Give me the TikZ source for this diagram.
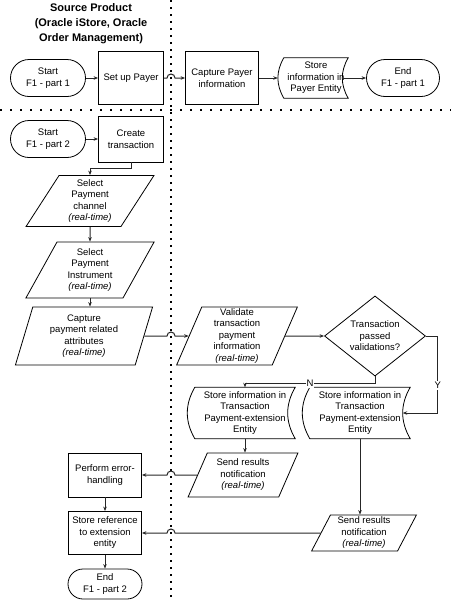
\documentclass[tikz,border=0pt]{standalone}
\usepackage{fontspec}
\setmainfont{Liberation Sans}
\usetikzlibrary{shapes.geometric, shapes.misc, arrows.meta, calc}

\tikzset{
  every node/.style={font=\fontsize{9.5}{11.5}\selectfont, align=center},
  term/.style={rounded rectangle, draw, line width=0.8pt, inner sep=0pt},
  proc/.style={rectangle, draw, line width=0.8pt, inner sep=0pt},
  io/.style={trapezium, trapezium left angle=#1, trapezium right angle={180-#1},
    trapezium stretches=true, draw, line width=0.8pt, inner sep=0pt},
  decision/.style={diamond, draw, line width=0.8pt, inner sep=0pt},
  stored/.style={rectangle, inner sep=0pt},
  line/.style={draw=black!85, line width=1pt, -{Stealth[length=4.5pt,width=3.5pt]}},
  divider/.style={line width=1.5pt, dash pattern=on 1.5pt off 5.5pt},
  branch/.style={fill=white, inner sep=1pt}
}
\newcommand{\storedshape}[1]{\draw[line width=0.8pt] (#1.north west) to[bend right=30] (#1.south west) -- (#1.south east) to[bend left=30] (#1.north east) -- cycle;}

\begin{document}
\begin{tikzpicture}[x=1pt, y=-1pt]
        \useasboundingbox (0,0) rectangle (451,600);

        % Define ends of the dividers
        \coordinate (divtop) at (171, 0);
        \coordinate (divbot) at (171, 600);
        \coordinate (rowleft) at (0, 110);
        \coordinate (rowright) at (451, 110);

        % Draw dotted dividers
        \draw[divider] (divtop) -- (divbot);
        \draw[divider, dash pattern=on 1.5pt off 8.5pt] (rowleft) -- (rowright);

        % Lane title
        \node[font=\fontsize{11}{15}\selectfont\bfseries] (title) at (91, 24) {Source Product\\(Oracle iStore, Oracle\\Order Management)};

        % Part 1 nodes
        \node[term, minimum width=75, minimum height=37] (start1) at (48, 78) {Start\\F1 - part 1};
        \node[proc, minimum width=65, minimum height=53] (payer) at (131, 78) {Set up Payer};
        \node[proc, minimum width=73, minimum height=53] (capture) at (222, 78) {Capture Payer\\information};
        \node[stored, minimum width=64, minimum height=40] (store1) at (316, 78) {Store\\information in\\Payer Entity};
        \node[term, minimum width=73, minimum height=37] (end1) at (403, 78) {End\\F1 - part 1};
        \storedshape{store1}

        % Part 2 nodes, left lane
        \node[term, minimum width=75, minimum height=37] (start2) at (48, 139) {Start\\F1 - part 2};
        \node[proc, minimum width=65, minimum height=46] (create) at (131, 139) {Create\\transaction};
        \node[io=62, minimum width=129, minimum height=51] (channel) at (90, 201) {Select\\Payment\\channel\\\textit{(real-time)}};
        \node[io=64, minimum width=129, minimum height=56] (instrument) at (90, 270) {Select\\Payment\\Instrument\\\textit{(real-time)}};
        \node[io=75, minimum width=138, minimum height=58] (attrs) at (84, 336) {Capture\\payment related\\attributes\\\textit{(real-time)}};
        \node[proc, minimum width=73, minimum height=44] (error) at (105, 475) {Perform error-\\handling};
        \node[proc, minimum width=73, minimum height=43] (storeref) at (105, 533) {Store reference\\to extension\\entity};
        \node[term, minimum width=74, minimum height=30] (end2) at (105, 584) {End\\F1 - part 2};

        % Part 2 nodes, right lane
        \node[io=73, minimum width=121, minimum height=58] (validate) at (237, 336) {Validate\\transaction\\payment\\information\\\textit{(real-time)}};
        \node[decision, minimum width=101, minimum height=74] (check) at (375, 336) {Transaction\\passed\\validations?};
        \node[stored, minimum width=100, minimum height=51] (storeN) at (245, 413) {Store information in\\Transaction\\Payment-extension\\Entity};
        \node[stored, minimum width=100, minimum height=51] (storeY) at (360, 413) {Store information in\\Transaction\\Payment-extension\\Entity};
        \storedshape{storeN}
        \storedshape{storeY}
        \node[io=66, minimum width=110, minimum height=44] (notifyN) at (243, 475) {Send results\\notification\\\textit{(real-time)}};
        \node[io=65, minimum width=105, minimum height=36] (notifyY) at (364, 533) {Send results\\notification\\\textit{(real-time)}};

        % Part 1 connectors
        \draw[line] (start1.east) -- (payer.west);
        \draw[line] (payer.east) -- ($(payer.east -| divtop)-(4pt,0)$) arc[start angle=180, end angle=0, radius=4pt] -- (capture.west);
        \draw[line] (capture.east) -- ([xshift=-6pt]store1.west);
        \draw[line] ([xshift=-6pt]store1.east) -- (end1.west);

        % Part 2 connectors
        \draw[line] (start2.east) -- (create.west);
        \draw[line] (create.south) -- ++(0,6) -| (channel.north);
        \draw[line] (channel.south) -- (instrument.north);
        \draw[line] (instrument.south) -- (instrument.south |- attrs.north);
        \draw[line] (attrs.east) -- ($(attrs.east -| divtop)-(4pt,0)$) arc[start angle=180, end angle=0, radius=4pt] -- (validate.west);
        \draw[line] (validate.east) -- (check.west);
        \draw[line] (check.south) -- ++(0,7) -| node[branch, pos=0.25] {N} (storeN.north);
        \draw[line] (check.east) -- ++(12,0) |- node[branch, pos=0.32] {Y} ([xshift=-7.5pt]storeY.east);
        \draw[line] (storeN.south) -- (storeN.south |- notifyN.north);
        \draw[line] (storeY.south) -- (storeY.south |- notifyY.north);
        \draw[line] (notifyN.west) -- ($(notifyN.west -| divtop)+(4pt,0)$) arc[start angle=0, end angle=180, radius=4pt] -- (error.east);
        \draw[line] (error.south) -- (storeref.north);
        \draw[line] (notifyY.west) -- ($(notifyY.west -| divtop)+(4pt,0)$) arc[start angle=0, end angle=180, radius=4pt] -- (storeref.east);
        \draw[line] (storeref.south) -- (end2.north);

    \end{tikzpicture}
\end{document}
